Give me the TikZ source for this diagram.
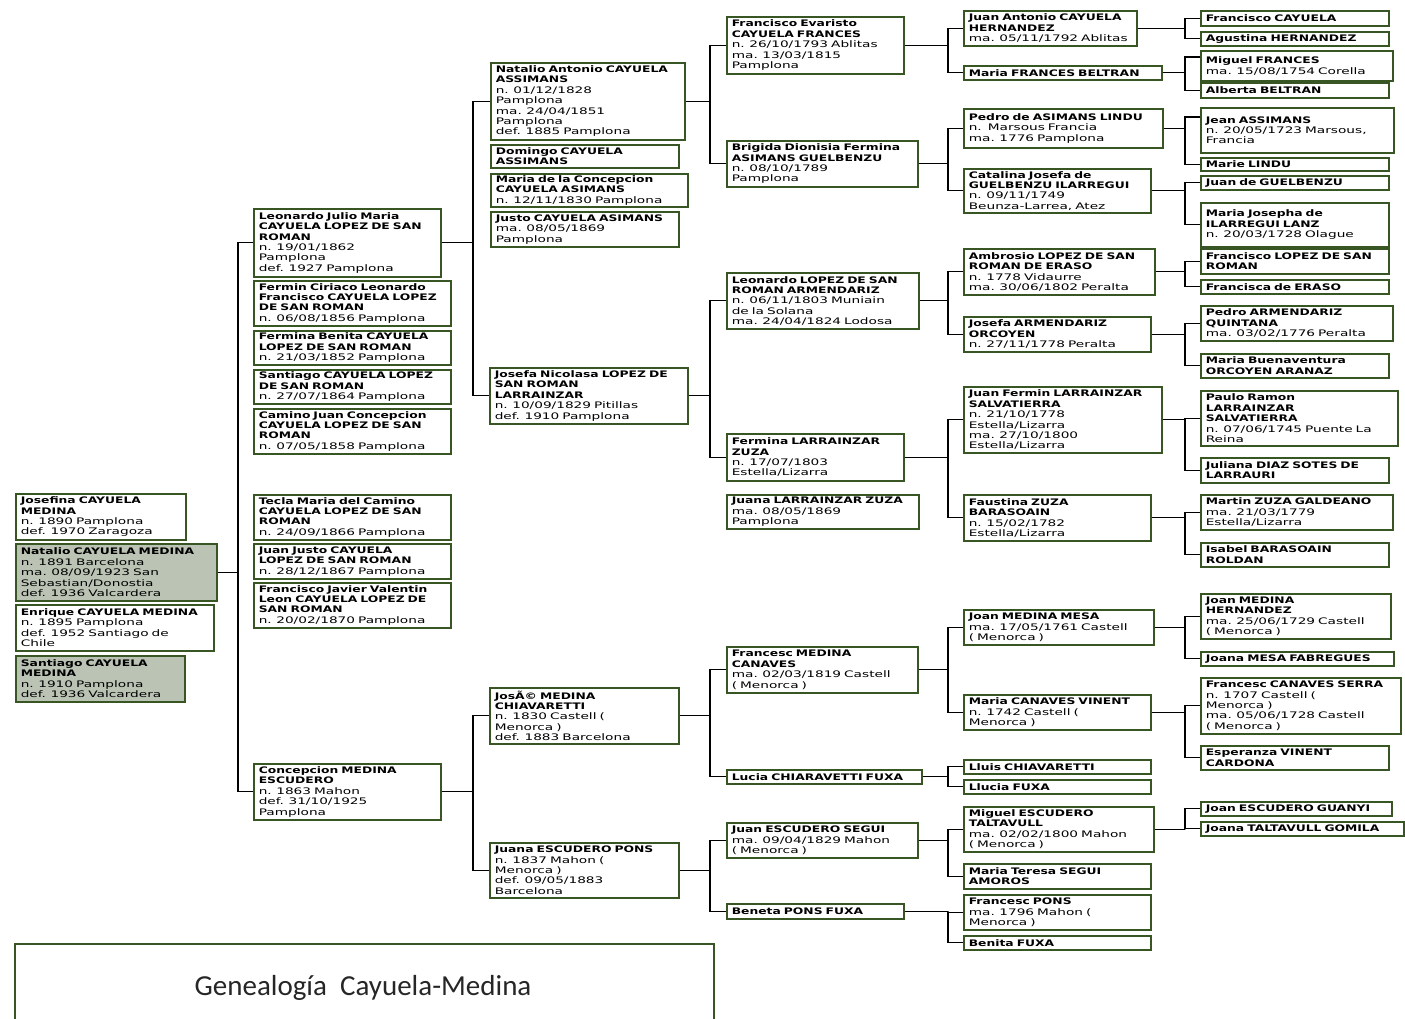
\documentclass[tikz,border=0pt]{standalone}
\usepackage{fontspec}
\usepackage{tikz}
\usetikzlibrary{calc}
\newfontfamily\regfont[FakeStretch=1.52]{DejaVu Sans}
\newfontfamily\namefont[FakeStretch=1.37]{DejaVu Sans}
\newfontfamily\titlefont{Carlito}
\definecolor{boxgreen}{RGB}{56,86,35}
\definecolor{sagefill}{RGB}{187,196,180}
\newcommand{\nm}[1]{{\namefont\bfseries #1}}
\tikzset{every picture/.style={line width=0.75pt}}
\tikzset{
  pbox/.style 2 args={draw=boxgreen, line width=1.6pt, anchor=north west, align=left,
    inner xsep=5pt, inner ysep=1pt, minimum width=#1pt, text width=#1pt-10pt,
    minimum height=#2pt, font=\regfont\fontsize{9}{10.4}\selectfont},
  link/.style={draw=black, line width=1.3pt},
}

\begin{document}
\begin{tikzpicture}[x=1pt,y=1pt,yscale=-1,xscale=1]
  \path[use as bounding box] (0,0) rectangle (1405,1018);
  \clip (0,0) rectangle (1405,1018);

  %Bars between generations
  \coordinate (bar0) at (238,0);
  \coordinate (bar1) at (473,0);
  \coordinate (bar2) at (710,0);
  \coordinate (bar3) at (948,0);
  \coordinate (bar4) at (1185,0);

  %Generation 0
  \node[pbox={170}{46}] (josefina) at (15,493) {\nm{Josefina CAYUELA\\MEDINA}\\n. 1890 Pamplona\\def. 1970 Zaragoza};
  \node[pbox={201}{57}, fill=sagefill] (natalio) at (15,543) {\nm{Natalio CAYUELA MEDINA}\\n. 1891 Barcelona\\ma. 08/09/1923 San\\Sebastian/Donostia\\def. 1936 Valcardera};
  \node[pbox={198}{46}] (enrique) at (15,604) {\nm{Enrique CAYUELA MEDINA}\\n. 1895 Pamplona\\def. 1952 Santiago de\\Chile};
  \node[pbox={169}{46}, fill=sagefill] (santiago) at (15,655) {\nm{Santiago CAYUELA\\MEDINA}\\n. 1910 Pamplona\\def. 1936 Valcardera};

  %Generation 1
  \node[pbox={187}{68}] (leonardo) at (253,208) {\nm{Leonardo Julio Maria\\CAYUELA LOPEZ DE SAN\\ROMAN}\\n. 19/01/1862\\Pamplona\\def. 1927 Pamplona};
  \node[pbox={197}{45}] (fermin) at (253,280) {\nm{Fermin Ciriaco Leonardo\\Francisco CAYUELA LOPEZ\\DE SAN ROMAN}\\n. 06/08/1856 Pamplona};
  \node[pbox={197}{34}] (fermina) at (253,330) {\nm{Fermina Benita CAYUELA\\LOPEZ DE SAN ROMAN}\\n. 21/03/1852 Pamplona};
  \node[pbox={197}{34}] (santiagol) at (253,369) {\nm{Santiago CAYUELA LOPEZ\\DE SAN ROMAN}\\n. 27/07/1864 Pamplona};
  \node[pbox={197}{45}] (camino) at (253,408) {\nm{Camino Juan Concepcion\\CAYUELA LOPEZ DE SAN\\ROMAN}\\n. 07/05/1858 Pamplona};
  \node[pbox={197}{45}] (tecla) at (253,494) {\nm{Tecla Maria del Camino\\CAYUELA LOPEZ DE SAN\\ROMAN}\\n. 24/09/1866 Pamplona};
  \node[pbox={197}{35}] (juanjusto) at (253,543) {\nm{Juan Justo CAYUELA\\LOPEZ DE SAN ROMAN}\\n. 28/12/1867 Pamplona};
  \node[pbox={197}{45}] (javier) at (253,582) {\nm{Francisco Javier Valentin\\Leon CAYUELA LOPEZ DE\\SAN ROMAN}\\n. 20/02/1870 Pamplona};
  \node[pbox={187}{56}] (concepcion) at (253,763) {\nm{Concepcion MEDINA\\ESCUDERO}\\n. 1863 Mahon\\def. 31/10/1925\\Pamplona};

  %Generation 2
  \node[pbox={194}{77}] (natant) at (490,62) {\nm{Natalio Antonio CAYUELA\\ASSIMANS}\\n. 01/12/1828\\Pamplona\\ma. 24/04/1851\\Pamplona\\def. 1885 Pamplona};
  \node[pbox={188}{23}] (domingo) at (490,144) {\nm{Domingo CAYUELA\\ASSIMANS}};
  \node[pbox={197}{33}] (mariacon) at (490,173) {\nm{Maria de la Concepcion\\CAYUELA ASIMANS}\\n. 12/11/1830 Pamplona};
  \node[pbox={188}{35}] (justo) at (490,211) {\nm{Justo CAYUELA ASIMANS}\\ma. 08/05/1869\\Pamplona};
  \node[pbox={198}{56}] (josefa) at (489,367) {\nm{Josefa Nicolasa LOPEZ DE\\SAN ROMAN\\LARRAINZAR}\\n. 10/09/1829 Pitillas\\def. 1910 Pamplona};
  \node[pbox={189}{56}] (jose) at (489,687) {\nm{JosÃ© MEDINA\\CHIAVARETTI}\\n. 1830 Castell (\\Menorca )\\def. 1883 Barcelona};
  \node[pbox={189}{55}] (juana) at (489,842) {\nm{Juana ESCUDERO PONS}\\n. 1837 Mahon (\\Menorca )\\def. 09/05/1883\\Barcelona};

  %Generation 3
  \node[pbox={177}{57}] (fevaristo) at (726,16) {\nm{Francisco Evaristo\\CAYUELA FRANCES}\\n. 26/10/1793 Ablitas\\ma. 13/03/1815\\Pamplona};
  \node[pbox={191}{46}] (brigida) at (726,140) {\nm{Brigida Dionisia Fermina\\ASIMANS GUELBENZU}\\n. 08/10/1789\\Pamplona};
  \node[pbox={192}{56}] (leonlopez) at (726,272) {\nm{Leonardo LOPEZ DE SAN\\ROMAN ARMENDARIZ}\\n. 06/11/1803 Muniain\\de la Solana\\ma. 24/04/1824 Lodosa};
  \node[pbox={177}{47}] (ferminalarr) at (726,433) {\nm{Fermina LARRAINZAR\\ZUZA}\\n. 17/07/1803\\Estella/Lizarra};
  \node[pbox={192}{34}] (juanalarr) at (726,494) {\nm{Juana LARRAINZAR ZUZA}\\ma. 08/05/1869\\Pamplona};
  \node[pbox={191}{46}] (francescm) at (726,646) {\nm{Francesc MEDINA\\CANAVES}\\ma. 02/03/1819 Castell\\( Menorca )};
  \node[pbox={195}{14}] (lucia) at (726,769) {\nm{Lucia CHIARAVETTI FUXA}};
  \node[pbox={191}{35}] (juanesc) at (726,822) {\nm{Juan ESCUDERO SEGUI}\\ma. 09/04/1829 Mahon\\( Menorca )};
  \node[pbox={177}{15}] (beneta) at (726,903) {\nm{Beneta PONS FUXA}};

  %Generation 4
  \node[pbox={173}{35}] (juanant) at (963,10) {\nm{Juan Antonio CAYUELA\\HERNANDEZ}\\ma. 05/11/1792 Ablitas};
  \node[pbox={198}{14}] (mariafr) at (963,65) {\nm{Maria FRANCES BELTRAN}};
  \node[pbox={199}{39}] (pedroas) at (963,108) {\nm{Pedro de ASIMANS LINDU}\\n.\ \ Marsous Francia\\ma. 1776 Pamplona};
  \node[pbox={187}{44}] (catalina) at (963,168) {\nm{Catalina Josefa de\\GUELBENZU ILARREGUI}\\n. 09/11/1749\\Beunza-Larrea, Atez};
  \node[pbox={191}{46}] (ambrosio) at (963,248) {\nm{Ambrosio LOPEZ DE SAN\\ROMAN DE ERASO}\\n. 1778 Vidaurre\\ma. 30/06/1802 Peralta};
  \node[pbox={187}{35}] (josefaarm) at (963,316) {\nm{Josefa ARMENDARIZ\\ORCOYEN}\\n. 27/11/1778 Peralta};
  \node[pbox={198}{66}] (juanfermin) at (963,386) {\nm{Juan Fermin LARRAINZAR\\SALVATIERRA}\\n. 21/10/1778\\Estella/Lizarra\\ma. 27/10/1800\\Estella/Lizarra};
  \node[pbox={187}{46}] (faustina) at (963,494) {\nm{Faustina ZUZA\\BARASOAIN}\\n. 15/02/1782\\Estella/Lizarra};
  \node[pbox={190}{35}] (joanmm) at (963,609) {\nm{Joan MEDINA MESA}\\ma. 17/05/1761 Castell\\( Menorca )};
  \node[pbox={187}{35}] (mariacan) at (963,694) {\nm{Maria CANAVES VINENT}\\n. 1742 Castell (\\Menorca )};
  \node[pbox={187}{14}] (lluis) at (963,759) {\nm{Lluis CHIAVARETTI}};
  \node[pbox={187}{14}] (llucia) at (963,779) {\nm{Llucia FUXA}};
  \node[pbox={190}{45}] (miguelesc) at (963,806) {\nm{Miguel ESCUDERO\\TALTAVULL}\\ma. 02/02/1800 Mahon\\( Menorca )};
  \node[pbox={187}{25}] (mteresa) at (963,863) {\nm{Maria Teresa SEGUI\\AMOROS}};
  \node[pbox={187}{35}] (francescp) at (963,894) {\nm{Francesc PONS}\\ma. 1796 Mahon (\\Menorca )};
  \node[pbox={187}{14}] (benita) at (963,935) {\nm{Benita FUXA}};

  %Generation 5
  \node[pbox={188}{15}] (fcayuela) at (1200,10) {\nm{Francisco CAYUELA}};
  \node[pbox={188}{14}] (agustina) at (1200,31) {\nm{Agustina HERNANDEZ}};
  \node[pbox={192}{30}] (miguelfr) at (1200,50) {\nm{Miguel FRANCES}\\ma. 15/08/1754 Corella};
  \node[pbox={188}{15}] (alberta) at (1200,82) {\nm{Alberta BELTRAN}};
  \node[pbox={193}{45}] (jeanas) at (1200,107) {\nm{Jean ASSIMANS}\\n. 20/05/1723 Marsous,\\Francia};
  \node[pbox={188}{13}] (marie) at (1200,157) {\nm{Marie LINDU}};
  \node[pbox={188}{14}] (juangue) at (1200,175) {\nm{Juan de GUELBENZU}};
  \node[pbox={188}{44}] (mjosepha) at (1200,202) {\nm{Maria Josepha de\\ILARREGUI LANZ}\\n. 20/03/1728 Olague};
  \node[pbox={188}{25}] (flopez) at (1200,248) {\nm{Francisco LOPEZ DE SAN\\ROMAN}};
  \node[pbox={188}{14}] (feraso) at (1200,279) {\nm{Francisca de ERASO}};
  \node[pbox={192}{35}] (pedroarm) at (1200,305) {\nm{Pedro ARMENDARIZ\\QUINTANA}\\ma. 03/02/1776 Peralta};
  \node[pbox={188}{24}] (mbuena) at (1200,353) {\nm{Maria Buenaventura\\ORCOYEN ARANAZ}};
  \node[pbox={197}{55}] (paulo) at (1200,390) {\nm{Paulo Ramon\\LARRAINZAR\\SALVATIERRA}\\n. 07/06/1745 Puente La\\Reina};
  \node[pbox={188}{25}] (juliana) at (1200,457) {\nm{Juliana DIAZ SOTES DE\\LARRAURI}};
  \node[pbox={192}{35}] (martin) at (1200,494) {\nm{Martin ZUZA GALDEANO}\\ma. 21/03/1779\\Estella/Lizarra};
  \node[pbox={188}{24}] (isabel) at (1200,542) {\nm{Isabel BARASOAIN\\ROLDAN}};
  \node[pbox={190}{45}] (joanmh) at (1200,593) {\nm{Joan MEDINA\\HERNANDEZ}\\ma. 25/06/1729 Castell\\( Menorca )};
  \node[pbox={193}{14}] (joana) at (1200,651) {\nm{Joana MESA FABREGUES}};
  \node[pbox={200}{56}] (francescc) at (1200,677) {\nm{Francesc CANAVES SERRA}\\n. 1707 Castell (\\Menorca )\\ma. 05/06/1728 Castell\\( Menorca )};
  \node[pbox={188}{24}] (esperanza) at (1200,745) {\nm{Esperanza VINENT\\CARDONA}};
  \node[pbox={191}{14}] (joanesc) at (1200,801) {\nm{Joan ESCUDERO GUANYI}};
  \node[pbox={203}{14}] (joanatal) at (1200,821) {\nm{Joana TALTAVULL GOMILA}};

  %Straight Lines: child -- bar -- father and mother
  \draw[link] (leonardo.west) -| (natalio.east -| bar0) |- (concepcion.west) (natalio.east) -- (natalio.east -| bar0);
  \draw[link] (natant.west) -| (leonardo.east -| bar1) |- (josefa.west) (leonardo.east) -- (leonardo.east -| bar1);
  \draw[link] (jose.west) -| (concepcion.east -| bar1) |- (juana.west) (concepcion.east) -- (concepcion.east -| bar1);
  \draw[link] (fevaristo.west) -| (natant.east -| bar2) |- (brigida.west) (natant.east) -- (natant.east -| bar2);
  \draw[link] (leonlopez.west) -| (josefa.east -| bar2) |- (ferminalarr.west) (josefa.east) -- (josefa.east -| bar2);
  \draw[link] (francescm.west) -| (jose.east -| bar2) |- (lucia.west) (jose.east) -- (jose.east -| bar2);
  \draw[link] (juanesc.west) -| (juana.east -| bar2) |- (beneta.west) (juana.east) -- (juana.east -| bar2);
  \draw[link] (juanant.west) -| (fevaristo.east -| bar3) |- (mariafr.west) (fevaristo.east) -- (fevaristo.east -| bar3);
  \draw[link] (pedroas.west) -| (brigida.east -| bar3) |- (catalina.west) (brigida.east) -- (brigida.east -| bar3);
  \draw[link] (ambrosio.west) -| (leonlopez.east -| bar3) |- (josefaarm.west) (leonlopez.east) -- (leonlopez.east -| bar3);
  \draw[link] (juanfermin.west) -| (ferminalarr.east -| bar3) |- (faustina.west) (ferminalarr.east) -- (ferminalarr.east -| bar3);
  \draw[link] (joanmm.west) -| (francescm.east -| bar3) |- (mariacan.west) (francescm.east) -- (francescm.east -| bar3);
  \draw[link] (lluis.west) -| (lucia.east -| bar3) |- (llucia.west) (lucia.east) -- (lucia.east -| bar3);
  \draw[link] (miguelesc.west) -| (juanesc.east -| bar3) |- (mteresa.west) (juanesc.east) -- (juanesc.east -| bar3);
  \draw[link] (francescp.west) -| (beneta.east -| bar3) |- (benita.west) (beneta.east) -- (beneta.east -| bar3);
  \draw[link] (fcayuela.west) -| (juanant.east -| bar4) |- (agustina.west) (juanant.east) -- (juanant.east -| bar4);
  \draw[link] ($(miguelfr.north west)+(0,7)$) -| (mariafr.east -| bar4) |- (alberta.west) (mariafr.east) -- (mariafr.east -| bar4);
  \draw[link] ($(jeanas.north west)+(0,10)$) -| (pedroas.east -| bar4) |- (marie.west) (pedroas.east) -- (pedroas.east -| bar4);
  \draw[link] (juangue.west) -| (catalina.east -| bar4) |- (mjosepha.west) (catalina.east) -- (catalina.east -| bar4);
  \draw[link] (flopez.west) -| (ambrosio.east -| bar4) |- (feraso.west) (ambrosio.east) -- (ambrosio.east -| bar4);
  \draw[link] (pedroarm.west) -| (josefaarm.east -| bar4) |- (mbuena.west) (josefaarm.east) -- (josefaarm.east -| bar4);
  \draw[link] (paulo.west) -| (juanfermin.east -| bar4) |- (juliana.west) (juanfermin.east) -- (juanfermin.east -| bar4);
  \draw[link] (martin.west) -| (faustina.east -| bar4) |- (isabel.west) (faustina.east) -- (faustina.east -| bar4);
  \draw[link] (joanmh.west) -| (joanmm.east -| bar4) |- (joana.west) (joanmm.east) -- (joanmm.east -| bar4);
  \draw[link] (francescc.west) -| (mariacan.east -| bar4) |- (esperanza.west) (mariacan.east) -- (mariacan.east -| bar4);
  \draw[link] (joanesc.west) -| (miguelesc.east -| bar4) |- (joanatal.west) (miguelesc.east) -- (miguelesc.east -| bar4);

  % Text Node
  \node[draw=boxgreen, line width=2pt, anchor=north west, minimum width=699pt, minimum height=100pt] (titlebox) at (14,943) {};
  \node[font=\titlefont\fontsize{29}{34}\selectfont, text=black!85] (title) at (363,988) {Genealogía~~Cayuela-Medina};
\end{tikzpicture}
\end{document}
